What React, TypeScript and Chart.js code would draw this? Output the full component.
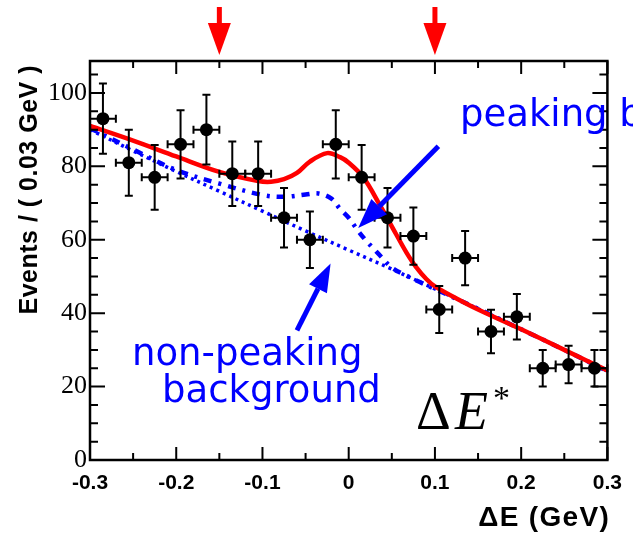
import React, { useEffect, useRef } from "react";
import { Chart, registerables } from "chart.js";

Chart.register(...registerables);

// ---- data ----
const binCenters = [-0.285, -0.255, -0.225, -0.195, -0.165, -0.135, -0.105, -0.075, -0.045, -0.015, 0.015, 0.045, 0.075, 0.105, 0.135, 0.165, 0.195, 0.225, 0.255, 0.285];
const counts = [93, 81, 77, 86, 90, 78, 78, 66, 60, 86, 77, 66, 61, 41, 55, 35, 39, 25, 26, 25];
const countErrors = [9.6, 9, 8.8, 9.3, 9.5, 8.8, 8.8, 8.1, 7.7, 9.3, 8.8, 8.1, 7.8, 6.4, 7.4, 5.9, 6.2, 5, 5.1, 5];
const binHalfWidth = 0.015;

const totalFitX = [-0.3, -0.25, -0.2, -0.15, -0.105, -0.09, -0.075, -0.06, -0.045, -0.025, -0.01, 0, 0.017, 0.036, 0.055, 0.067, 0.078, 0.09, 0.1, 0.125, 0.15, 0.2, 0.25, 0.3];
const totalFitY = [91, 87, 82.7, 78.5, 76, 75.8, 76.5, 78.2, 81.3, 83.6, 82.5, 81, 77, 69.5, 61.5, 56.5, 52.6, 49.3, 47.3, 44, 41, 35.6, 30, 24.4];

const totalBkgX = [-0.3, -0.25, -0.2, -0.15, -0.1, -0.075, -0.05, -0.035, -0.02, -0.01, 0, 0.01, 0.02, 0.03, 0.04, 0.05, 0.075, 0.1, 0.15, 0.2, 0.25, 0.3];
const totalBkgY = [90.4, 84.6, 79, 75.3, 72.2, 71.7, 72.3, 72.6, 71.2, 68.4, 66, 62.7, 59.8, 57.3, 54.8, 52.4, 49.3, 46.6, 41.2, 35.6, 30, 24.2];

const nonPeakX = [-0.3, -0.25, -0.2, -0.15, -0.1, -0.05, 0, 0.05, 0.1, 0.15, 0.2, 0.25, 0.3];
const nonPeakY = [90, 84.2, 78.6, 73.2, 67.8, 62.4, 57.2, 52, 46.6, 41.2, 35.6, 30, 24.2];

const xTickValues = [-0.3, -0.2, -0.1, 0, 0.1, 0.2, 0.3];
const xTickLabels = ["-0.3", "-0.2", "-0.1", "0", "0.1", "0.2", "0.3"];
const yTickValues = [0, 20, 40, 60, 80, 100];
const yTickLabels = ["0", "20", "40", "60", "80", "100"];
const cutValues = [-0.15, 0.1];

const X_MIN = -0.3;
const X_MAX = 0.3;
const Y_MIN = 0;
const Y_MAX = 108.7;
const X_MINOR_STEP = 0.05;
const Y_MINOR_STEP = 5;

const RED = "#ff0000";
const BLUE = "#0000ff";

function toXY(xs: number[], ys: number[]) {
  return xs.map((x, i) => ({ x, y: ys[i] }));
}

function drawArrow(ctx: CanvasRenderingContext2D, x1: number, y1: number, x2: number, y2: number, color: string, width: number, headLen: number, headHalf: number) {
  const ang = Math.atan2(y2 - y1, x2 - x1);
  const bx = x2 - headLen * Math.cos(ang);
  const by = y2 - headLen * Math.sin(ang);
  ctx.save();
  ctx.strokeStyle = color;
  ctx.fillStyle = color;
  ctx.lineWidth = width;
  ctx.lineCap = "butt";
  ctx.beginPath();
  ctx.moveTo(x1, y1);
  ctx.lineTo(bx, by);
  ctx.stroke();
  ctx.beginPath();
  ctx.moveTo(x2, y2);
  ctx.lineTo(bx + headHalf * Math.sin(ang), by - headHalf * Math.cos(ang));
  ctx.lineTo(bx - headHalf * Math.sin(ang), by + headHalf * Math.cos(ang));
  ctx.closePath();
  ctx.fill();
  ctx.restore();
}

const decorPlugin = {
  id: "decor",
  afterDatasetsDraw(chart: any) {
    const { ctx, chartArea: a, scales } = chart;
    const xs = scales.x;
    const ys = scales.y;

    // error bars
    ctx.save();
    ctx.strokeStyle = "#000";
    ctx.lineWidth = 2;
    binCenters.forEach((xv, i) => {
      const px = xs.getPixelForValue(xv);
      const py = ys.getPixelForValue(counts[i]);
      const pl = xs.getPixelForValue(xv - binHalfWidth);
      const pr = xs.getPixelForValue(xv + binHalfWidth);
      const pt = ys.getPixelForValue(counts[i] + countErrors[i]);
      const pb = ys.getPixelForValue(counts[i] - countErrors[i]);
      const c = 4;
      ctx.beginPath();
      ctx.moveTo(pl, py); ctx.lineTo(pr, py);
      ctx.moveTo(px, pt); ctx.lineTo(px, pb);
      ctx.moveTo(pl, py - c); ctx.lineTo(pl, py + c);
      ctx.moveTo(pr, py - c); ctx.lineTo(pr, py + c);
      ctx.moveTo(px - c, pt); ctx.lineTo(px + c, pt);
      ctx.moveTo(px - c, pb); ctx.lineTo(px + c, pb);
      ctx.stroke();
    });
    ctx.restore();

    // frame and inner ticks
    ctx.save();
    ctx.strokeStyle = "#000";
    ctx.lineWidth = 2.5;
    ctx.strokeRect(a.left, a.top, a.right - a.left, a.bottom - a.top);
    ctx.lineWidth = 2;
    ctx.beginPath();
    for (let v = X_MIN; v <= X_MAX + 1e-9; v += X_MINOR_STEP) {
      const px = xs.getPixelForValue(v);
      const major = xTickValues.some((t) => Math.abs(t - v) < 1e-6);
      const len = major ? 13 : 7;
      ctx.moveTo(px, a.bottom); ctx.lineTo(px, a.bottom - len);
      ctx.moveTo(px, a.top); ctx.lineTo(px, a.top + len);
    }
    for (let v = Y_MIN; v <= Y_MAX + 1e-9; v += Y_MINOR_STEP) {
      const py = ys.getPixelForValue(v);
      const major = yTickValues.some((t) => Math.abs(t - v) < 1e-6);
      const len = major ? 15 : 8;
      ctx.moveTo(a.left, py); ctx.lineTo(a.left + len, py);
      ctx.moveTo(a.right, py); ctx.lineTo(a.right - len, py);
    }
    ctx.stroke();
    ctx.restore();

    // red cut arrows above the frame
    ctx.save();
    ctx.fillStyle = RED;
    cutValues.forEach((v) => {
      const px = xs.getPixelForValue(v);
      ctx.fillRect(px - 2.5, a.top - 54, 5, 20);
      ctx.beginPath();
      ctx.moveTo(px - 11.5, a.top - 38);
      ctx.lineTo(px + 11.5, a.top - 38);
      ctx.lineTo(px, a.top - 6);
      ctx.closePath();
      ctx.fill();
    });
    ctx.restore();

    // blue annotation arrows
    drawArrow(ctx, xs.getPixelForValue(0.104), ys.getPixelForValue(85.5), xs.getPixelForValue(0.011), ys.getPixelForValue(63.2), BLUE, 5, 30, 11);
    drawArrow(ctx, xs.getPixelForValue(-0.06), ys.getPixelForValue(35.3), xs.getPixelForValue(-0.021), ys.getPixelForValue(53.5), BLUE, 5, 28, 10);

    // texts
    ctx.save();
    ctx.fillStyle = BLUE;
    ctx.textBaseline = "alphabetic";
    ctx.textAlign = "left";
    ctx.font = "37px 'DejaVu Sans'";
    ctx.fillText("peaking background", 460, 126);
    ctx.fillText("non-peaking", 132, 365);
    ctx.fillText("background", 162, 402);

    ctx.fillStyle = "#000";
    ctx.font = "54px 'Liberation Serif'";
    ctx.fillText("\u0394", 416, 429);
    ctx.font = "italic 54px 'Liberation Serif'";
    ctx.fillText("E", 455, 429);
    ctx.font = "34px 'Liberation Serif'";
    ctx.fillText("*", 493, 409);

    // axis titles
    ctx.font = "bold 28px 'Liberation Sans'";
    (ctx as any).letterSpacing = "1.3px";
    ctx.textAlign = "right";
    ctx.fillText("\u0394E (GeV)", 610, 526);

    ctx.font = "bold 25px 'Liberation Sans'";
    (ctx as any).letterSpacing = "0.5px";
    ctx.translate(37, 65);
    ctx.rotate(-Math.PI / 2);
    ctx.textAlign = "right";
    ctx.fillText("Events / ( 0.03 GeV )", 0, 0);
    ctx.restore();
  },
};

export default function App() {
  const canvasRef = useRef<HTMLCanvasElement | null>(null);

  useEffect(() => {
    if (!canvasRef.current) return;
    const chart = new Chart(canvasRef.current, {
      type: "scatter",
      data: {
        datasets: [
          {
            label: "data",
            data: toXY(binCenters, counts),
            pointRadius: 6.5,
            pointBackgroundColor: "#000",
            pointBorderWidth: 0,
            showLine: false,
            order: 0,
          },
          {
            label: "total fit",
            data: toXY(totalFitX, totalFitY),
            showLine: true,
            borderColor: RED,
            borderWidth: 4.5,
            pointRadius: 0,
            tension: 0.35,
            fill: false,
            order: 1,
          },
          {
            label: "peaking + non-peaking background",
            data: toXY(totalBkgX, totalBkgY),
            showLine: true,
            borderColor: BLUE,
            borderWidth: 4.5,
            borderDash: [8, 7, 3, 7],
            pointRadius: 0,
            tension: 0.35,
            fill: false,
            order: 2,
          },
          {
            label: "non-peaking background",
            data: toXY(nonPeakX, nonPeakY),
            showLine: true,
            borderColor: BLUE,
            borderWidth: 3.5,
            borderDash: [3, 4],
            pointRadius: 0,
            tension: 0.35,
            fill: false,
            order: 3,
          },
        ],
      } as any,
      options: {
        animation: false,
        responsive: false,
        devicePixelRatio: 1,
        layout: { padding: { top: 61, right: 19, left: 0, bottom: 0 } },
        plugins: { legend: { display: false }, tooltip: { enabled: false } },
        scales: {
          x: {
            type: "linear",
            min: X_MIN,
            max: X_MAX,
            afterBuildTicks: (s: any) => {
              s.ticks = xTickValues.map((v) => ({ value: v }));
            },
            afterFit: (s: any) => {
              s.height = 77;
            },
            grid: { display: false, drawTicks: false },
            border: { display: false },
            ticks: {
              autoSkip: false,
              maxRotation: 0,
              padding: 11,
              color: "#000",
              font: { family: "'Liberation Sans'", weight: "bold", size: 21 },
              callback: (_v: any, i: number) => xTickLabels[i],
            },
          },
          y: {
            type: "linear",
            min: Y_MIN,
            max: Y_MAX,
            afterBuildTicks: (s: any) => {
              s.ticks = yTickValues.map((v) => ({ value: v }));
            },
            afterFit: (s: any) => {
              s.width = 90;
            },
            grid: { display: false, drawTicks: false },
            border: { display: false },
            ticks: {
              autoSkip: false,
              padding: 3,
              color: "#000",
              font: { family: "'Liberation Serif'", size: 26 },
              callback: (_v: any, i: number) => yTickLabels[i],
            },
          },
        },
      } as any,
      plugins: [decorPlugin],
    });
    return () => chart.destroy();
  }, []);

  return (
    <div style={{ position: "fixed", left: 0, top: 0, width: 633, height: 537, background: "#fff" }}>
      <canvas ref={canvasRef} width={633} height={537} style={{ display: "block" }} />
    </div>
  );
}
